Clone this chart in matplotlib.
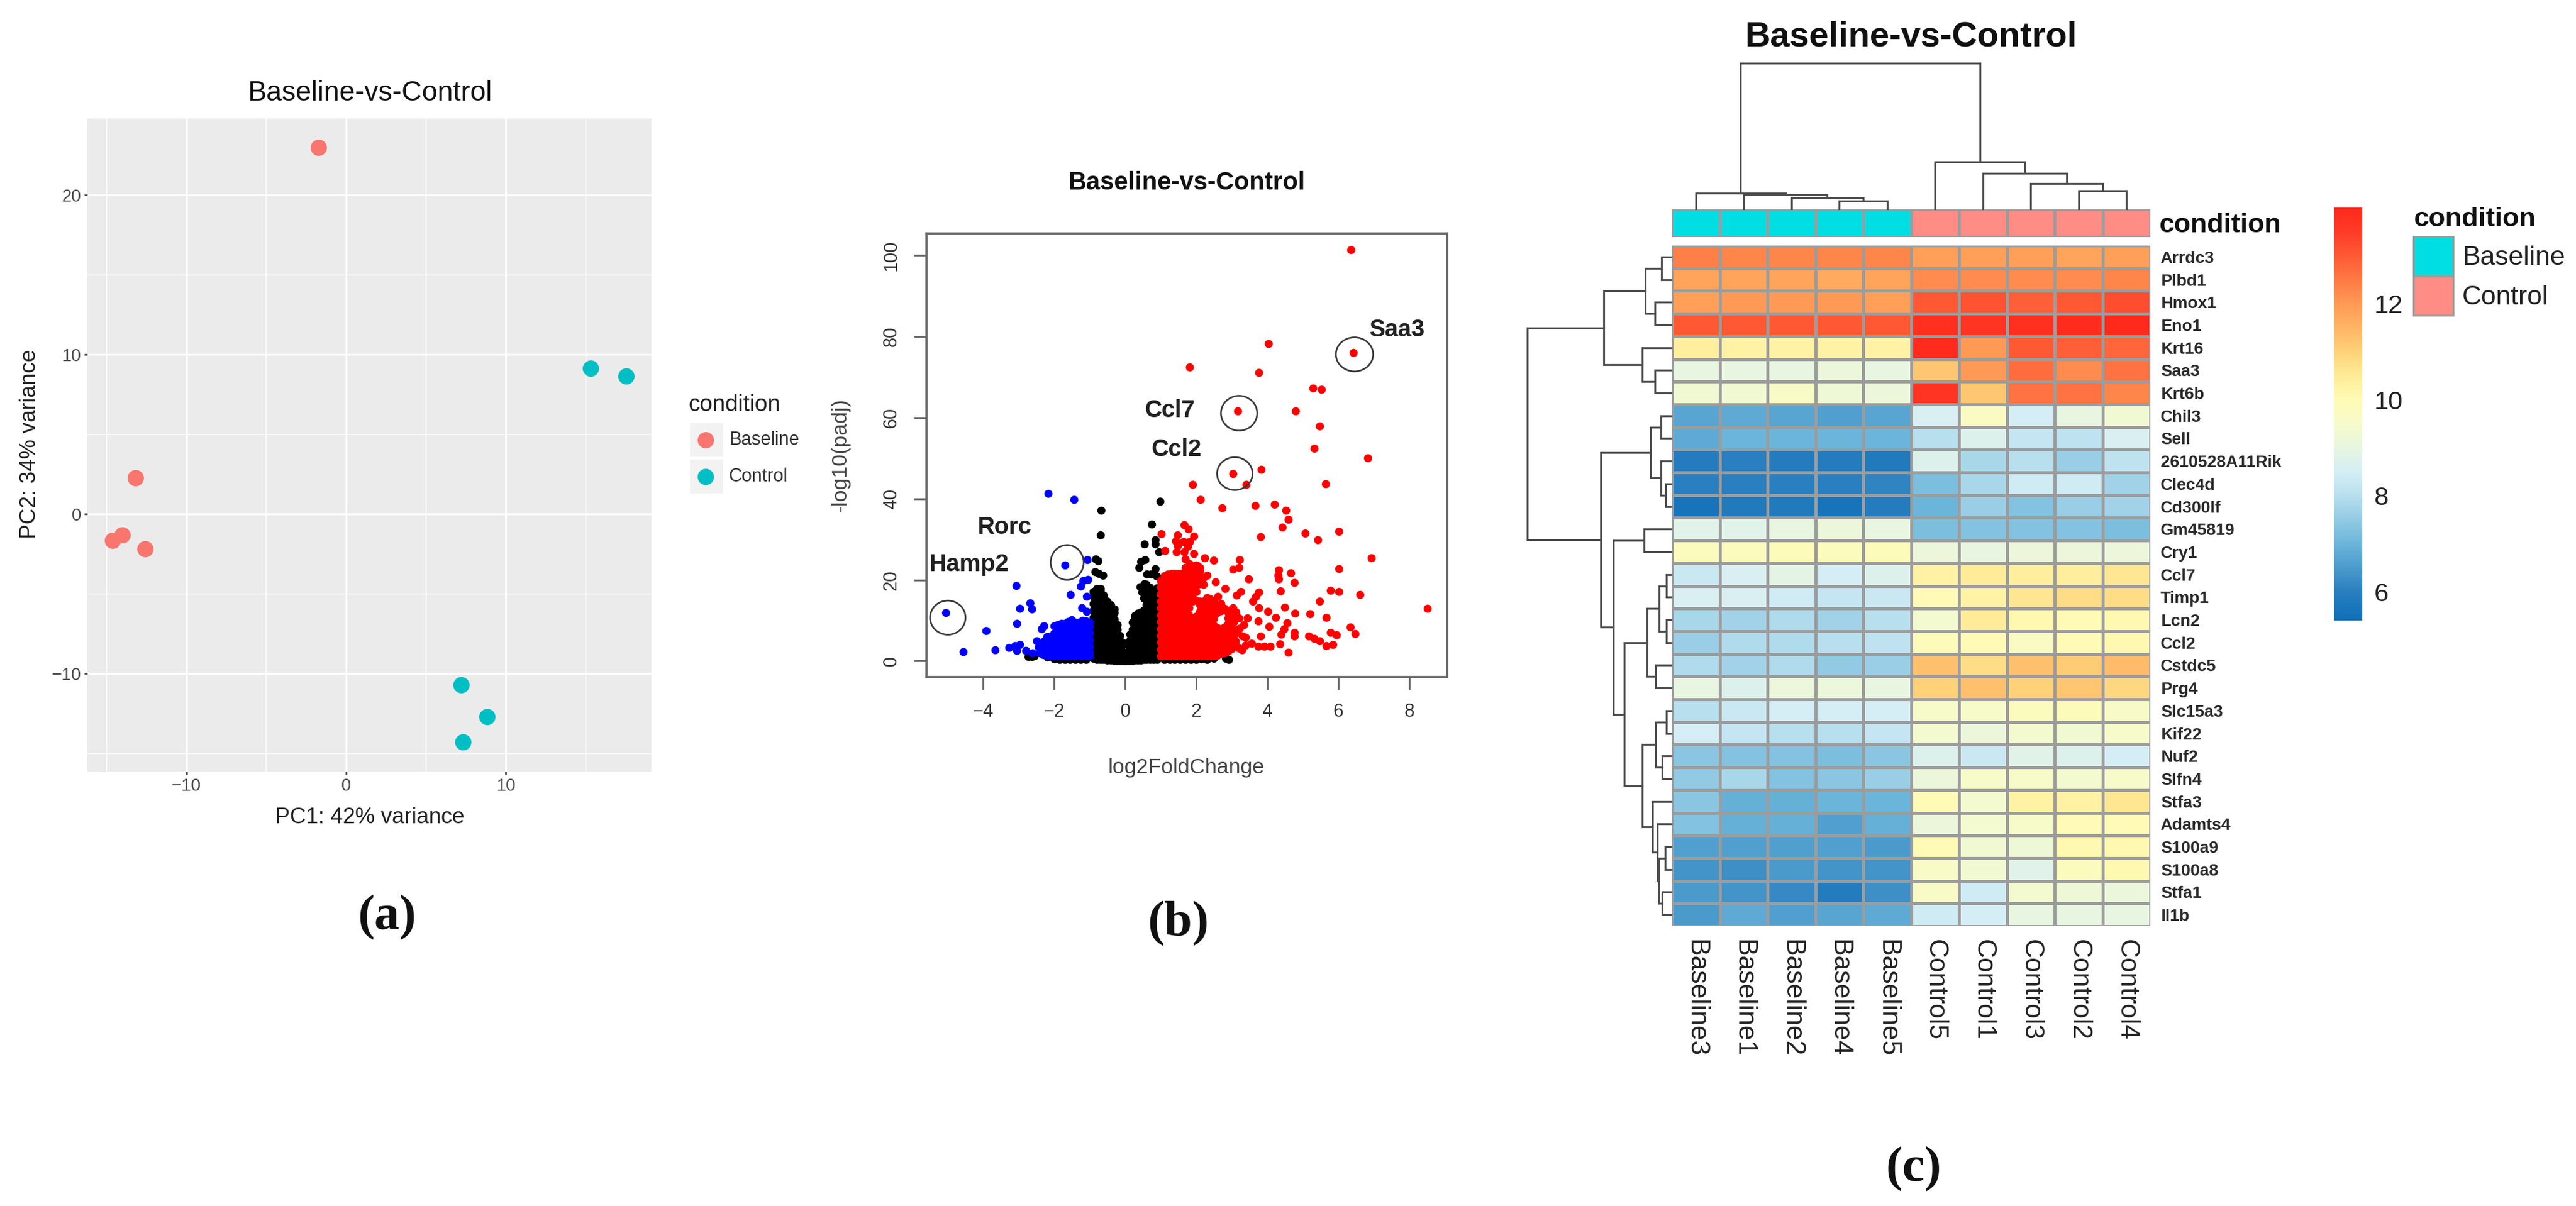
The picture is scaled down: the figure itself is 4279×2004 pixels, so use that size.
#!/usr/bin/env python3
"""Three panel figure: PCA plot, volcano plot and clustered heatmap (Baseline-vs-Control)."""

import matplotlib
matplotlib.use("Agg")
import matplotlib.pyplot as plt
import numpy as np
from matplotlib.cm import ScalarMappable
from matplotlib.colors import LinearSegmentedColormap, Normalize
from matplotlib.patches import Ellipse, Rectangle

plt.rcParams["font.family"] = ["Liberation Sans", "DejaVu Sans"]

W, H = 4279, 2004

# ---- panel (a) ----
baseline_pc1 = [-1.75, -13.2, -14.6, -14.0, -12.6]
baseline_pc2 = [22.98, 2.27, -1.64, -1.33, -2.17]
control_pc1 = [15.3, 17.5, 7.2, 8.8, 7.3]
control_pc2 = [9.15, 8.63, -10.7, -12.7, -14.3]

# ---- panel (b) ----
# sparse points
red_x = [6.35, 4.04, 6.42, 1.81, 3.76, 5.29, 5.53, 3.17, 4.80, 5.47, 5.33, 6.84, 3.83, 3.03, 5.64, 1.90,
         3.41, 2.12, 2.73, 3.67, 4.20, 4.53, 4.60, 4.43, 6.02, 5.07, 5.43, 3.81, 6.93, 3.23, 3.20, 3.03,
         6.02, 4.32, 4.31, 4.33, 4.67, 4.76, 3.48, 5.78, 6.02, 6.61, 4.37, 3.77, 3.68, 3.60, 3.26, 3.14,
         5.47, 4.50, 8.51, 3.77, 4.02, 4.79, 5.21, 4.24, 5.67, 3.45, 3.75, 4.05, 4.56, 4.47, 4.39, 4.76,
         4.76, 3.82, 3.40, 5.18, 5.33, 5.47, 6.34, 6.48, 5.79, 5.95, 5.66, 5.85, 4.36, 4.59, 3.20, 3.29,
         3.40, 3.57, 3.74, 3.91, 4.08, 2.69, 3.03, 3.12, 3.20, 3.34, 3.23,
         1.67, 1.78, 1.93, 1.02, 1.47, 1.42, 1.47, 1.64, 1.81, 1.76, 1.44, 1.12, 1.67, 1.93, 2.24, 2.49,
         1.70, 1.81, 2.04, 2.31, 2.54, 2.82, 2.95, 3.05, 3.18, 2.78, 2.62, 3.30]
red_y = [101.4, 78.2, 76.0, 72.4, 71.1, 67.2, 67.0, 61.7, 61.7, 57.9, 52.5, 50.0, 47.2, 46.2, 43.7, 43.6,
         43.5, 39.8, 37.8, 38.3, 38.7, 37.2, 34.9, 33.0, 32.0, 31.5, 29.9, 30.6, 25.5, 25.0, 23.0, 22.6,
         22.7, 22.5, 21.2, 20.2, 21.7, 19.4, 20.2, 17.4, 17.2, 16.4, 17.3, 17.0, 16.0, 14.8, 17.1, 16.3,
         14.8, 13.2, 12.9, 13.1, 12.3, 11.8, 11.6, 10.8, 10.8, 10.6, 9.9, 8.5, 9.4, 7.9, 6.6, 7.1,
         6.1, 6.1, 5.9, 6.1, 5.6, 5.0, 8.4, 6.7, 7.0, 6.5, 3.8, 4.1, 4.2, 2.2, 3.2, 2.7,
         3.9, 4.4, 3.7, 3.7, 3.6, 14.1, 13.1, 12.1, 10.6, 8.9, 8.1,
         33.6, 32.6, 30.8, 31.3, 31.1, 29.6, 28.4, 29.4, 29.4, 28.2, 26.9, 27.2, 26.9, 26.4, 25.4, 24.8,
         25.2, 24.0, 23.5, 21.2, 19.5, 17.8, 11.0, 9.5, 7.2, 5.0, 16.0, 6.2]
blue_x = [-2.16, -1.43, -1.69, -1.06, -1.05, -1.19, -1.25, -1.54, -1.08, -2.67, -2.63, -1.22, -1.08,
          -2.29, -2.35, -2.49, -5.04, -3.07, -2.97, -3.04, -3.91, -4.55, -3.66, -3.27, -3.10, -2.97,
          -3.04, -2.79, -2.43, -2.60]
blue_y = [41.3, 39.8, 23.7, 25.0, 20.1, 19.8, 18.5, 16.4, 16.0, 14.3, 12.8, 13.1, 12.3,
          8.6, 7.9, 4.9, 11.9, 18.6, 12.9, 9.2, 7.5, 2.3, 2.8, 3.4, 3.8, 4.0,
          2.6, 2.6, 3.5, 2.0]
black_x = [-0.68, -0.69, 0.98, 0.75, 0.85, 0.85, 0.54, 0.96, -0.82, -0.76, -0.85, -0.74, -0.62,
           0.45, 0.40, 0.57, 0.85, 0.74, 0.62, 0.88, 0.55, 0.42, 0.48,
           -2.72, -2.62, -2.55, -2.18, -2.00, -1.85, -1.70, -1.55, -1.40, -1.25, -1.10,
           1.10, 1.25, 1.40, 1.55, 1.70, 1.85, 2.00, 2.15, 2.30, 2.50, 2.83, 2.92]
black_y = [37.1, 31.1, 39.4, 33.7, 29.9, 28.9, 28.8, 26.9, 25.2, 24.7, 22.0, 21.6, 21.1,
           24.5, 23.0, 25.0, 22.7, 21.5, 21.5, 21.0, 19.0, 18.3, 17.0,
           1.1, 1.1, 1.2, 0.9, 0.5, 0.4, 0.3, 0.4, 0.3, 0.4, 0.3,
           0.3, 0.4, 0.3, 0.4, 0.3, 0.4, 0.4, 0.5, 0.4, 0.6, 0.7, 0.4]

# dense clouds, one list of -log10(padj) per log2FoldChange column
black_cols = {
    -0.90: [0.6, 2.3, 4.0, 5.7, 7.4, 9.1, 10.8, 12.5, 14.2, 15.9, 17.2],
    -0.80: [0.3, 1.4, 3.1, 4.8, 6.5, 8.2, 9.9, 11.6, 13.3, 15.0, 16.7, 17.8],
    -0.70: [0.3, 2.0, 3.7, 5.4, 7.1, 8.8, 10.5, 12.2, 13.9, 15.6, 17.3, 17.8],
    -0.60: [0.3, 1.2, 2.9, 4.6, 6.3, 8.0, 9.7, 11.4, 13.1, 14.8, 16.2],
    -0.50: [0.2, 1.9, 3.6, 5.3, 7.0, 8.7, 10.4, 12.1, 13.8, 14.8],
    -0.40: [0.2, 1.1, 2.8, 4.5, 6.2, 7.9, 9.6, 11.3, 13.0, 13.9],
    -0.30: [0.1, 1.8, 3.5, 5.2, 6.9, 8.6, 10.3, 12.0, 12.8],
    -0.22: [0.1, 1.0, 2.7, 4.4, 6.1, 7.8, 9.0],
    -0.15: [0.1, 1.7, 3.4, 5.1, 6.3],
    -0.08: [0.1, 0.9, 2.5, 3.9, 4.6],
    -0.03: [0.1, 1.2],
    0.00: [0.1, 0.6],
    0.03: [0.1, 1.2],
    0.08: [0.1, 0.9, 2.5, 3.9, 4.6],
    0.14: [0.1, 1.7, 3.4, 5.1, 6.6],
    0.20: [0.1, 1.0, 2.7, 4.4, 6.1, 7.8, 9.6],
    0.28: [0.2, 1.9, 3.6, 5.3, 7.0, 8.7, 10.4, 11.2],
    0.36: [0.2, 1.1, 2.8, 4.5, 6.2, 7.9, 9.6, 11.3, 11.8],
    0.44: [0.2, 1.9, 3.6, 5.3, 7.0, 8.7, 10.4, 12.1],
    0.52: [0.3, 1.2, 2.9, 4.6, 6.3, 8.0, 9.7, 11.4, 12.6, 15.5, 17.0, 18.6],
    0.60: [0.3, 2.0, 3.7, 5.4, 7.1, 8.8, 10.5, 12.2, 13.9, 15.6, 17.3, 18.9],
    0.70: [0.3, 1.2, 2.9, 4.6, 6.3, 8.0, 9.7, 11.4, 13.1, 14.8, 16.5, 18.2],
    0.80: [0.3, 2.0, 3.7, 5.4, 7.1, 8.8, 10.5, 12.2, 13.9, 15.6, 17.0],
    0.90: [0.4, 1.3, 3.0, 4.7, 6.4, 8.1, 9.8, 11.5, 13.2, 14.9, 18.0],
}
blue_cols = {
    -2.40: [2.0, 3.4],
    -2.30: [1.6, 3.2, 4.8],
    -2.20: [1.4, 2.4, 3.9, 5.4, 6.0],
    -2.10: [1.3, 2.9, 4.5, 6.1],
    -2.00: [1.3, 2.1, 3.7, 5.3, 6.9, 8.6],
    -1.90: [1.3, 2.9, 4.5, 6.1, 7.7, 9.0],
    -1.80: [1.3, 2.1, 3.7, 5.3, 6.9, 8.5, 9.3],
    -1.70: [1.3, 2.9, 4.5, 6.1, 7.7, 9.3],
    -1.60: [1.3, 2.1, 3.7, 5.3, 6.9, 8.5, 9.7],
    -1.50: [1.3, 2.9, 4.5, 6.1, 7.7, 9.3, 10.2],
    -1.40: [1.3, 2.1, 3.7, 5.3, 6.9, 8.5, 9.6],
    -1.30: [1.3, 2.9, 4.5, 6.1, 7.7, 9.5],
    -1.20: [1.3, 2.1, 3.7, 5.3, 6.9, 8.5, 10.0],
    -1.10: [1.3, 2.9, 4.5, 6.1, 7.7, 9.3, 9.8],
    -1.00: [1.3, 2.1, 3.7, 5.3, 6.9, 8.5, 9.6],
}
red_cols = {
    1.00: [1.2, 2.9, 4.6, 6.3, 8.0, 9.7, 11.4, 13.1, 14.8, 16.5, 18.2, 19.8],
    1.10: [1.2, 2.0, 3.7, 5.4, 7.1, 8.8, 10.5, 12.2, 13.9, 15.6, 17.3, 19.0, 20.7, 21.0],
    1.20: [1.2, 2.9, 4.6, 6.3, 8.0, 9.7, 11.4, 13.1, 14.6, 16.5, 18.2, 19.9, 21.4],
    1.30: [1.2, 2.0, 3.7, 5.4, 7.1, 8.8, 10.5, 12.2, 13.9, 15.6, 17.3, 19.0, 20.7, 21.6],
    1.40: [1.2, 2.9, 4.6, 6.3, 8.0, 9.7, 11.4, 13.1, 15.2, 16.5, 18.2, 19.9, 21.6],
    1.50: [1.2, 2.0, 3.7, 5.4, 7.1, 8.8, 10.5, 12.2, 13.9, 15.6, 17.3, 19.0, 20.7, 21.6],
    1.60: [1.2, 2.9, 4.6, 6.3, 8.0, 9.7, 11.4, 13.1, 14.8, 16.8, 18.2, 19.9, 21.6],
    1.70: [1.2, 2.0, 3.7, 5.4, 7.1, 8.8, 10.5, 12.2, 13.9, 15.6, 17.3, 19.0, 20.7, 22.4, 23.0],
    1.80: [1.2, 2.9, 4.6, 6.3, 8.0, 9.7, 11.4, 13.1, 14.8, 16.5, 18.2, 19.9, 21.6, 23.4],
    1.90: [1.2, 2.0, 3.7, 5.4, 7.1, 8.8, 10.5, 14.8, 15.6, 17.3, 19.0, 20.7, 22.4, 23.3],
    2.00: [1.2, 2.9, 4.6, 6.3, 8.0, 9.7, 11.0, 14.9, 17.2, 18.6, 20.3, 22.0, 23.7],
    2.10: [1.2, 2.0, 3.7, 5.4, 7.1, 8.8, 10.5, 12.2, 13.9, 14.8, 19.0, 20.5, 22.2, 23.0],
    2.20: [1.2, 2.9, 4.6, 6.3, 8.0, 9.7, 11.4, 13.1, 14.8, 18.9, 20.5],
    2.30: [1.2, 2.0, 3.7, 5.4, 7.1, 8.8, 10.5, 12.2, 13.9, 15.6],
    2.40: [1.2, 2.9, 4.6, 6.3, 8.0, 9.7, 11.4, 13.1, 14.8, 15.4],
    2.50: [1.2, 2.0, 3.7, 5.4, 7.1, 8.8, 10.5, 12.2, 13.9, 14.8],
    2.60: [1.4, 3.1, 4.8, 6.5, 8.2, 12.0, 13.2],
    2.70: [1.8, 2.8, 4.4, 6.0, 7.6, 8.0, 12.4, 13.8],
    2.80: [2.0, 3.7, 5.4, 7.1, 8.3, 12.9],
    2.90: [2.4, 3.3, 4.9, 6.6, 8.3, 9.2, 10.6, 12.0],
    3.00: [3.0, 4.7, 6.4, 8.1, 9.8, 11.4, 12.8],
    3.10: [4.2, 5.0, 6.7, 7.6, 10.4, 12.0],
}
# circled genes: name, centre, size, label position
gene_names = ["Saa3", "Ccl7", "Ccl2", "Rorc", "Hamp2"]
circle_x = [6.46, 3.21, 3.09, -1.63, -4.99]
circle_y = [75.6, 61.1, 46.2, 24.3, 10.7]
circle_w = [1.05, 1.02, 1.00, 0.93, 1.00]
circle_h = [8.4, 8.6, 8.1, 8.6, 8.4]
gene_label_x = [7.66, 1.26, 1.44, -3.40, -4.40]
gene_label_y = [81.7, 61.8, 52.1, 33.0, 23.8]

# ---- panel (c) ----
samples = ["Baseline3", "Baseline1", "Baseline2", "Baseline4", "Baseline5",
           "Control5", "Control1", "Control3", "Control2", "Control4"]
genes = ["Arrdc3", "Plbd1", "Hmox1", "Eno1", "Krt16", "Saa3", "Krt6b", "Chil3", "Sell", "2610528A11Rik",
         "Clec4d", "Cd300lf", "Gm45819", "Cry1", "Ccl7", "Timp1", "Lcn2", "Ccl2", "Cstdc5", "Prg4",
         "Slc15a3", "Kif22", "Nuf2", "Slfn4", "Stfa3", "Adamts4", "S100a9", "S100a8", "Stfa1", "Il1b"]
expression = [
    [12.4, 12.3, 12.3, 12.3, 12.3, 11.9, 11.9, 11.9, 11.8, 11.9],
    [11.8, 11.8, 11.8, 11.7, 11.8, 12.2, 12.2, 12.2, 12.2, 12.3],
    [11.9, 12.0, 12.0, 12.0, 11.9, 13.0, 13.1, 12.9, 13.0, 13.2],
    [13.0, 13.0, 13.0, 13.0, 13.0, 13.8, 13.7, 13.8, 13.9, 14.0],
    [10.4, 10.3, 10.3, 10.3, 10.3, 13.9, 12.0, 13.0, 12.9, 12.8],
    [9.0, 9.0, 9.0, 9.1, 9.0, 11.2, 12.0, 12.7, 12.2, 12.6],
    [9.3, 9.3, 9.6, 9.2, 9.1, 13.7, 11.2, 12.6, 12.6, 12.3],
    [6.7, 6.8, 6.7, 6.6, 6.7, 8.6, 9.7, 8.5, 9.0, 9.3],
    [6.8, 7.0, 7.0, 7.0, 7.0, 8.0, 8.7, 8.2, 8.1, 8.6],
    [5.9, 6.0, 5.9, 5.9, 5.8, 8.7, 7.8, 8.0, 7.6, 8.1],
    [6.0, 6.0, 6.0, 6.0, 6.1, 7.2, 7.8, 8.4, 8.4, 7.7],
    [5.6, 5.8, 5.8, 5.6, 5.9, 7.0, 7.6, 7.3, 7.6, 7.7],
    [8.8, 8.8, 9.0, 9.1, 9.0, 7.2, 7.3, 7.3, 7.3, 7.2],
    [9.8, 9.8, 9.9, 9.8, 9.9, 9.1, 9.0, 9.1, 9.1, 9.1],
    [8.3, 8.6, 8.9, 8.5, 8.7, 10.3, 10.5, 10.4, 10.4, 10.6],
    [8.6, 8.6, 8.4, 8.2, 8.3, 10.0, 10.3, 10.6, 10.8, 10.8],
    [7.8, 7.7, 7.9, 7.7, 8.0, 9.4, 10.5, 10.1, 10.0, 10.1],
    [7.6, 7.9, 7.9, 8.0, 8.1, 9.9, 10.0, 9.7, 10.0, 10.1],
    [7.9, 7.7, 7.9, 7.5, 7.6, 11.3, 10.8, 11.3, 11.1, 11.4],
    [9.0, 8.7, 9.1, 9.1, 9.0, 11.0, 11.3, 11.0, 11.2, 10.9],
    [8.0, 8.3, 8.5, 8.5, 8.5, 9.5, 9.5, 9.8, 9.9, 9.6],
    [8.5, 8.2, 8.0, 8.0, 8.2, 9.4, 9.1, 9.4, 9.3, 9.5],
    [7.4, 7.3, 7.3, 7.2, 7.4, 8.7, 8.3, 8.8, 8.7, 8.5],
    [7.5, 7.8, 7.3, 7.4, 7.6, 9.1, 9.5, 9.5, 9.4, 9.5],
    [7.4, 6.9, 6.9, 7.0, 7.0, 10.0, 9.4, 10.3, 10.3, 10.6],
    [7.3, 6.9, 6.9, 6.6, 6.9, 9.1, 9.4, 9.5, 10.0, 10.0],
    [6.6, 6.6, 6.6, 6.6, 6.5, 10.0, 9.3, 9.2, 10.1, 10.1],
    [6.4, 6.3, 6.5, 6.4, 6.4, 9.6, 9.3, 8.8, 9.8, 10.1],
    [6.5, 6.4, 6.2, 5.9, 6.3, 9.6, 8.4, 9.4, 9.2, 9.1],
    [6.5, 6.8, 6.6, 6.7, 6.8, 8.4, 8.5, 9.0, 9.0, 9.0],
]
# dendrograms as linkage rows: left node, right node, height (pixels of the picture)
top_links = [(3, 4, 12.8), (2, 10, 17.9), (1, 11, 24.5), (0, 12, 26.5), (8, 9, 29.6),
             (7, 14, 42.3), (6, 15, 58.7), (5, 16, 78.0), (13, 17, 242.0)]
left_links = [(0, 1, 16), (2, 3, 27.4), (30, 31, 43.4), (5, 6, 27.4), (4, 33, 47.8), (32, 34, 111.6),
              (7, 8, 16.6), (10, 11, 9), (9, 37, 16.6), (36, 38, 33.8), (12, 13, 45.3),
              (14, 15, 8.3), (16, 17, 8.3), (41, 42, 19.8), (18, 19, 26.1), (43, 44, 40.2),
              (20, 21, 8.3), (22, 23, 14.7), (46, 47, 26.1), (26, 27, 9.6), (28, 29, 14.7),
              (49, 50, 21), (25, 51, 23), (24, 52, 30.6), (48, 53, 47.8), (45, 54, 78.4),
              (40, 55, 95.7), (39, 56, 116.7), (35, 57, 239)]
cmap_values = [5.4, 6, 7, 8, 8.5, 9, 9.5, 10, 10.5, 11, 11.5, 12, 12.5, 13, 13.5, 14]
cmap_colors = ["#0F6FB8", "#2A80BF", "#6DB6DA", "#B8DFEE", "#D5EEF5", "#E8F5E0", "#F7FBCB", "#FFFBB5",
               "#FFEB98", "#FFD27A", "#FFB565", "#FF9A55", "#FF7A45", "#FF5A35", "#FF3C28", "#FF2A1C"]


def px_axes(fig, left, top, right, bottom):
    return fig.add_axes([left / W, 1 - bottom / H, (right - left) / W, (bottom - top) / H])


def expand(cols):
    xs = [x for x, ys in cols.items() for _ in ys]
    ys = [y for col in cols.values() for y in col]
    return xs, ys


def dendro_segments(links, n_leaves):
    pos = {i: i + 0.5 for i in range(n_leaves)}
    height = {i: 0.0 for i in range(n_leaves)}
    segs = []
    for k, (a, b, h) in enumerate(links):
        segs.append(([pos[a], pos[a], pos[b], pos[b]], [height[a], h, h, height[b]]))
        pos[n_leaves + k] = (pos[a] + pos[b]) / 2
        height[n_leaves + k] = h
    return segs


def draw_pca(fig):
    ax = px_axes(fig, 145, 197, 1082, 1282)
    ax.set_facecolor("#EBEBEB")
    ax.scatter(baseline_pc1, baseline_pc2, s=380, color="#F8766D", linewidths=0, zorder=3)
    ax.scatter(control_pc1, control_pc2, s=380, color="#00BFC4", linewidths=0, zorder=3)
    ax.set_xlim(-16.2, 19.1)
    ax.set_ylim(-16.15, 24.8)
    ax.set_xticks([-10, 0, 10])
    ax.set_yticks([-10, 0, 10, 20])
    ax.set_xticks([-15, -5, 5, 15], minor=True)
    ax.set_yticks([-15, -5, 5, 15], minor=True)
    ax.grid(which="major", color="white", linewidth=2.2)
    ax.grid(which="minor", color="white", linewidth=1.1)
    ax.set_axisbelow(True)
    ax.tick_params(which="minor", length=0)
    ax.tick_params(which="major", length=3.5, width=2, color="#444444", labelsize=21,
                   labelcolor="#4D4D4D", pad=4)
    for s in ax.spines.values():
        s.set_visible(False)


def draw_volcano(fig):
    ax = px_axes(fig, 1539, 388, 2404, 1125)
    bx, by = expand(black_cols)
    ax.scatter(bx + black_x, by + black_y, s=95, color="black", linewidths=0, zorder=2)
    rx, ry = expand(red_cols)
    ax.scatter(rx + red_x, ry + red_y, s=95, color="#FF0000", linewidths=0, zorder=3)
    lx, ly = expand(blue_cols)
    ax.scatter(lx + blue_x, ly + blue_y, s=95, color="#0000FF", linewidths=0, zorder=3)
    for i, name in enumerate(gene_names):
        ax.add_patch(Ellipse((circle_x[i], circle_y[i]), circle_w[i], circle_h[i], fill=False,
                             edgecolor="#3A3A3A", linewidth=2.0, zorder=4))
        ax.text(gene_label_x[i], gene_label_y[i], name, fontsize=28.5, fontweight="bold",
                color="#222222", ha="center", va="center", zorder=5)
    ax.set_xlim(-5.59, 9.07)
    ax.set_ylim(-3.94, 105.4)
    ax.set_xticks([-4, -2, 0, 2, 4, 6, 8])
    ax.set_yticks([0, 20, 40, 60, 80, 100])
    ax.tick_params(length=15, width=2.2, color="#666666", labelsize=22, labelcolor="#333333", pad=16)
    plt.setp(ax.get_yticklabels(), rotation=90, va="center")
    for s in ax.spines.values():
        s.set_linewidth(2.6)
        s.set_color("#666666")


def draw_heatmap(fig, bg):
    left, right, top, bottom = 2777, 3572, 408, 1539
    values = np.array(expression)
    cmap = LinearSegmentedColormap.from_list(
        "expr", [((v - 5.4) / 8.6, c) for v, c in zip(cmap_values, cmap_colors)])
    norm = Normalize(5.4, 14.0)

    ax = px_axes(fig, left, top, right, bottom)
    ax.pcolormesh(values, cmap=cmap, norm=norm, edgecolors="#9C9C9C", linewidth=2.2)
    ax.set_ylim(len(genes), 0)
    ax.set_xticks(np.arange(len(samples)) + 0.5, samples, rotation=270, fontsize=32, color="#222222")
    ax.set_yticks(np.arange(len(genes)) + 0.5, genes, fontsize=20, fontweight="bold", color="#2A2A2A")
    ax.yaxis.tick_right()
    ax.tick_params(length=0, pad=12)
    ax.tick_params(axis="x", pad=16)
    for s in ax.spines.values():
        s.set_visible(False)

    # annotation strip
    strip = px_axes(fig, left, 348, right, 394)
    strip.pcolormesh(np.array([[0] * 5 + [1] * 5]), cmap=LinearSegmentedColormap.from_list(
        "cond", ["#00DDE3", "#FF8C85"]), edgecolors="#9C9C9C", linewidth=2.2)
    strip.axis("off")
    bg.text(3586, 374, "condition", fontsize=32.5, fontweight="bold", color="#111111", va="center")

    # dendrograms
    dtop = px_axes(fig, left, 100, right, 347)
    for xs, ys in dendro_segments(top_links, len(samples)):
        dtop.plot(xs, ys, color="#4D4D4D", linewidth=2.3, solid_joinstyle="miter", clip_on=False)
    dtop.set_xlim(0, len(samples))
    dtop.set_ylim(0, 247)
    dtop.axis("off")

    dleft = px_axes(fig, 2500, top, 2776, bottom)
    for xs, ys in dendro_segments(left_links, len(genes)):
        dleft.plot(ys, xs, color="#4D4D4D", linewidth=2.3, solid_joinstyle="miter", clip_on=False)
    dleft.set_xlim(276, 0)
    dleft.set_ylim(len(genes), 0)
    dleft.axis("off")

    # colour bar
    cax = px_axes(fig, 3877, 345, 3924, 1031)
    cbar = fig.colorbar(ScalarMappable(norm=norm, cmap=cmap), cax=cax, ticks=[6, 8, 10, 12])
    cbar.ax.tick_params(length=0, labelsize=31, labelcolor="#222222", pad=14)
    cbar.outline.set_visible(False)

    # condition legend
    bg.text(4009, 364, "condition", fontsize=32.5, fontweight="bold", color="#111111", va="center")
    for y, color, name in [(393, "#00DDE3", "Baseline"), (459, "#FF8C85", "Control")]:
        bg.add_patch(Rectangle((4009, y), 66, 65, facecolor=color, edgecolor="#9C9C9C", linewidth=2.2))
        bg.text(4090, y + 35, name, fontsize=32, color="#222222", va="center")


def main():
    fig = plt.figure(figsize=(W / 100, H / 100), dpi=100, facecolor="white")
    # full figure layer in picture pixels, used for titles and the hand placed legends
    bg = fig.add_axes([0, 0, 1, 1])
    bg.set_xlim(0, W)
    bg.set_ylim(H, 0)
    bg.axis("off")

    draw_pca(fig)
    draw_volcano(fig)
    draw_heatmap(fig, bg)

    # panel (a) texts and legend
    bg.text(614, 155, "Baseline-vs-Control", fontsize=33.5, color="#111111", ha="center", va="center")
    bg.text(614, 1358, "PC1: 42% variance", fontsize=26.5, color="#222222", ha="center", va="center")
    bg.text(50, 738, "PC2: 34% variance", fontsize=26.5, color="#222222", rotation=90,
            ha="center", va="center")
    bg.text(1143, 673, "condition", fontsize=27.5, color="#222222", va="center")
    for y, color, name in [(703, "#F8766D", "Baseline"), (764, "#00BFC4", "Control")]:
        bg.add_patch(Rectangle((1146, y), 55, 56, facecolor="#F2F2F2", edgecolor="none"))
        bg.scatter([1172], [y + 28], s=380, color=color, linewidths=0)
        bg.text(1211, y + 28, name, fontsize=22, color="#333333", va="center")

    # panel (b) texts
    bg.text(1971, 304, "Baseline-vs-Control", fontsize=30, fontweight="bold", color="#111111",
            ha="center", va="center")
    bg.text(1971, 1276, "log2FoldChange", fontsize=25.5, color="#444444", ha="center", va="center")
    bg.text(1396, 756, "-log10(padj)", fontsize=25.5, color="#444444", rotation=90, ha="center", va="center")

    # panel (c) title
    bg.text(3174, 61, "Baseline-vs-Control", fontsize=42, fontweight="bold", color="#111111",
            ha="center", va="center")

    # panel letters
    for x, y, letter in [(643, 1525, "(a)"), (1957, 1535, "(b)"), (3179, 1943, "(c)")]:
        bg.text(x, y, letter, fontsize=60, fontweight="bold", family=["Liberation Serif", "DejaVu Serif"],
                color="#111111", ha="center", va="center")

    fig.savefig("out.png", dpi=100)


if __name__ == "__main__":
    main()
